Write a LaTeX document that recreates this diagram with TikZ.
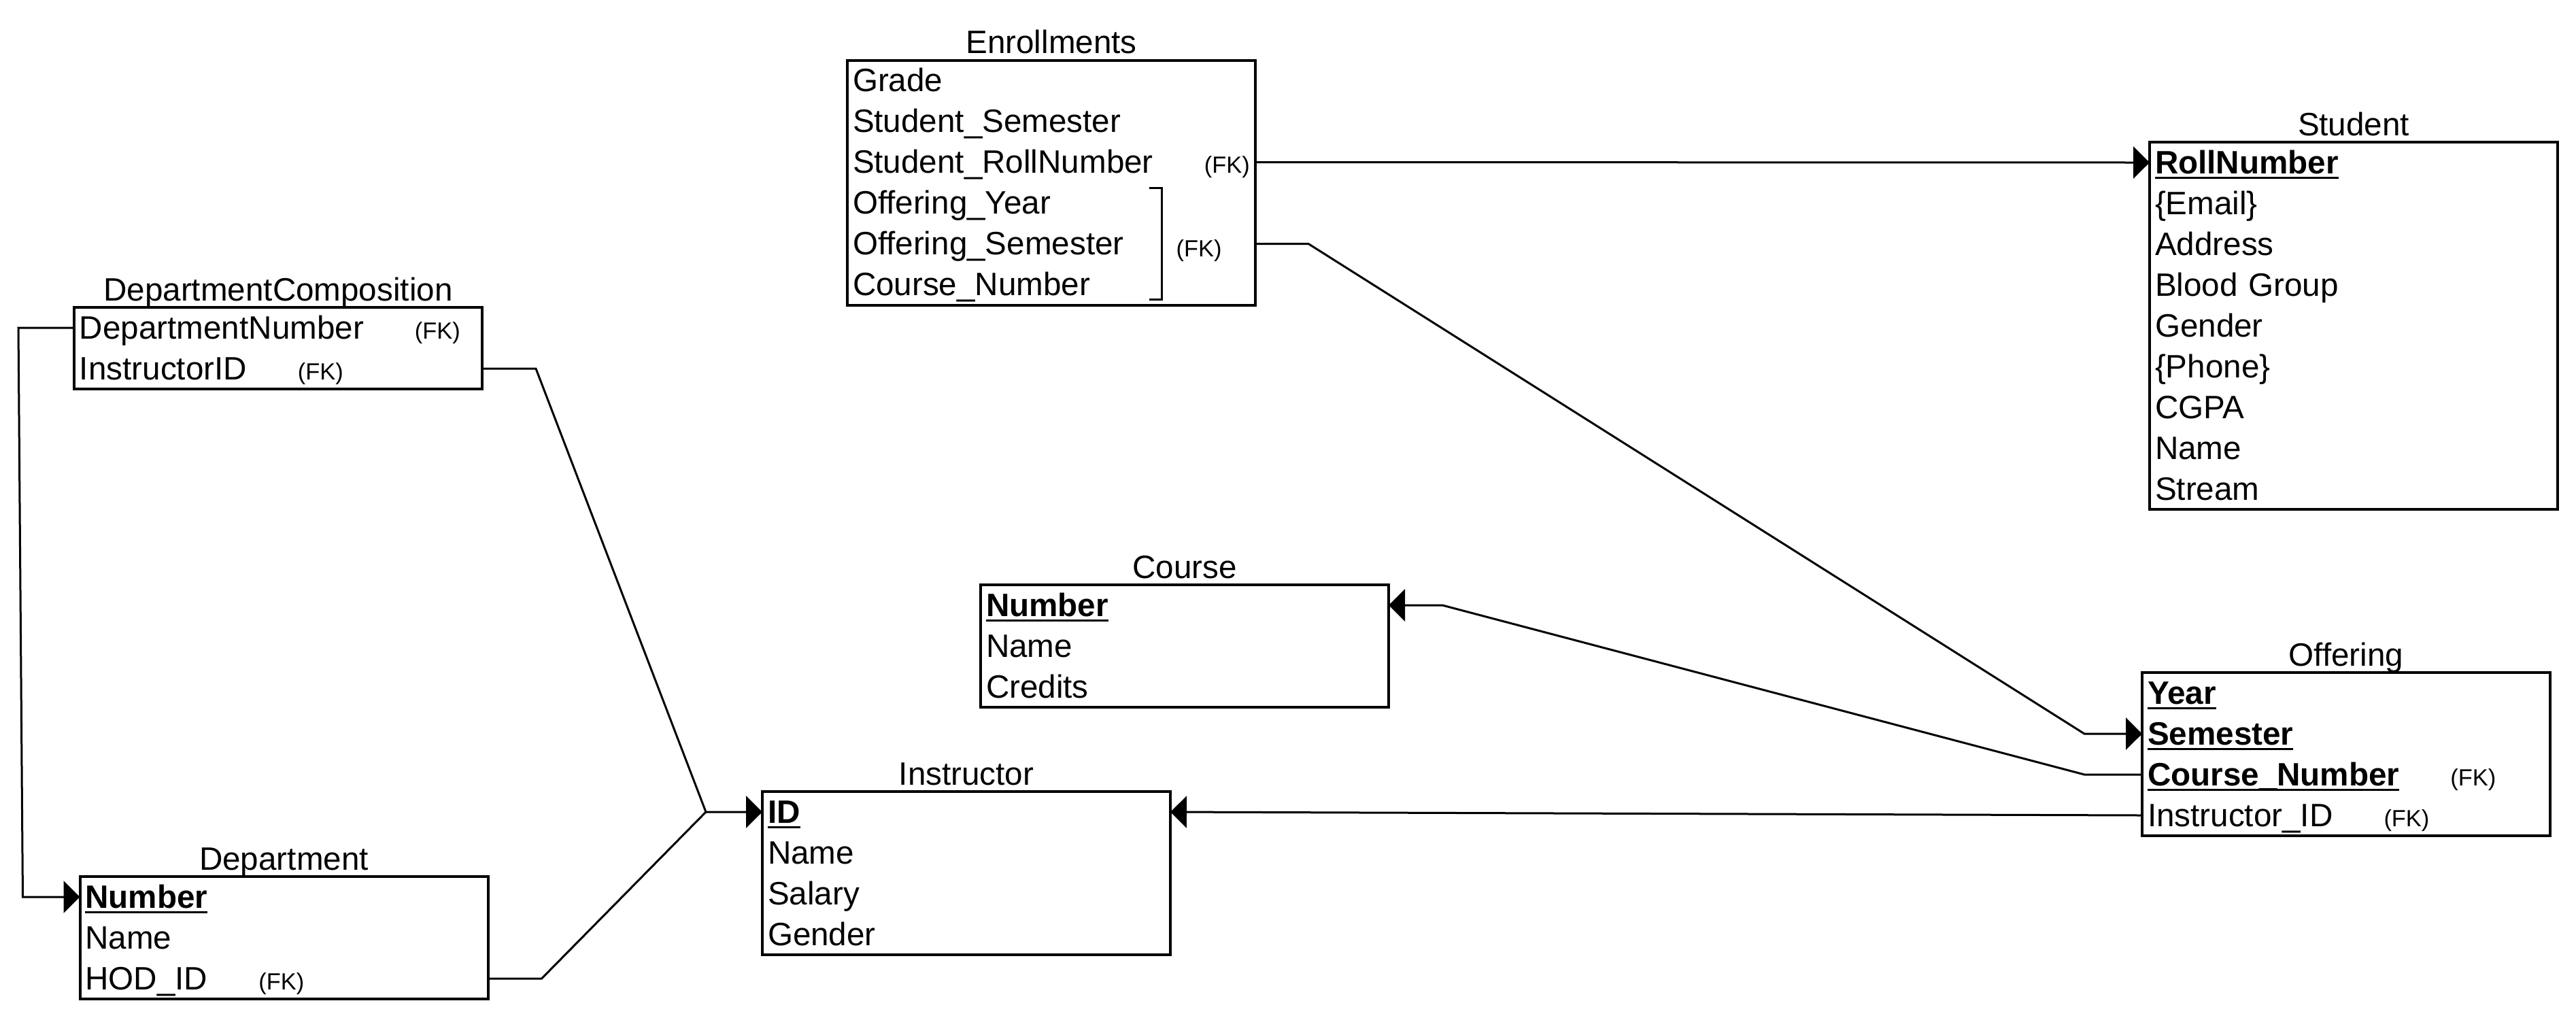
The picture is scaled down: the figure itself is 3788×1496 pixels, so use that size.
\documentclass[tikz,border=0pt]{standalone}
\usepackage{fontspec}
\setmainfont{Liberation Sans}
\usepackage{tikz}
\usetikzlibrary{arrows.meta,positioning,matrix}
\newcommand{\tblfont}{\fontsize{23.8pt}{30pt}\selectfont}
\newcommand{\fkfont}{\fontsize{17.2pt}{20pt}\selectfont}
\newcommand{\fk}{\hspace{37.5pt}{\fkfont (FK)}}
\newsavebox{\pkbox}
\newcommand{\pk}[1]{\sbox\pkbox{\bfseries #1}\rlap{\usebox\pkbox}\rule[-0.17em]{\wd\pkbox}{0.06em}}
\begin{document}
\begin{tikzpicture}[x=0.5pt, y=-0.5pt, %
        tbl/.style={matrix of nodes, draw, line width=2pt, inner sep=0pt, outer sep=0pt,
          row sep=0pt,
          nodes={font=\tblfont, text width=292pt, inner xsep=4pt, inner ysep=0pt,
            outer sep=0pt, text height=23pt, text depth=7pt, align=left}},
        ttl/.style={font=\tblfont, inner sep=0pt, text depth=0pt},
        ln/.style={line width=1.5pt},
        lnarr/.style={ln, -{Triangle[length=12pt,width=23.5pt]}}
        ]
        \fill[white] (0,0) rectangle (3788,1496);
        % tables
        \matrix[tbl, anchor=north west] (enr) at (1246,88.5) {
          Grade\\
          Student\_Semester\\
          Student\_RollNumber\fk\\
          Offering\_Year\\
          Offering\_Semester\\
          Course\_Number\\
        };
        \node[ttl, above=4.75pt of enr] (enrt) {Enrollments};
        \matrix[tbl, anchor=north west] (stu) at (3161,209) {
          \pk{RollNumber}\\
          \{Email\}\\
          Address\\
          Blood Group\\
          Gender\\
          \{Phone\}\\
          CGPA\\
          Name\\
          Stream\\
        };
        \node[ttl, above=4.75pt of stu] (stut) {Student};
        \matrix[tbl, anchor=north west] (dc) at (109,452) {
          DepartmentNumber\fk\\
          InstructorID\fk\\
        };
        \node[ttl, above=4.75pt of dc] (dct) {DepartmentComposition};
        \matrix[tbl, anchor=north west] (crs) at (1442,860) {
          \pk{Number}\\
          Name\\
          Credits\\
        };
        \node[ttl, above=4.75pt of crs] (crst) {Course};
        \matrix[tbl, anchor=north west] (off) at (3150,989) {
          \pk{Year}\\
          \pk{Semester}\\
          \pk{Course\_Number}\fk\\
          Instructor\_ID\fk\\
        };
        \node[ttl, above=4.75pt of off] (offt) {Offering};
        \matrix[tbl, anchor=north west] (ins) at (1121,1164) {
          \pk{ID}\\
          Name\\
          Salary\\
          Gender\\
        };
        \node[ttl, above=4.75pt of ins] (inst) {Instructor};
        \matrix[tbl, anchor=north west] (dep) at (117.5,1289) {
          \pk{Number}\\
          Name\\
          HOD\_ID\fk\\
        };
        \node[ttl, above=4.75pt of dep] (dept) {Department};
        % composite key bracket
        \draw[ln] ([xshift=-78pt,yshift=-3.75pt]enr-4-1.north east) -- ++(18,0)
          |- ([xshift=-78pt,yshift=4.25pt]enr-6-1.south east);
        \node[font=\fkfont, inner sep=0pt] (enrfk) at ([xshift=-41.5pt,yshift=-5pt]enr-5-1.east) {(FK)};
        % references
        \draw[lnarr] (enr-3-1.east) -- (stu-1-1.west);
        \draw[lnarr] (enr-5-1.east) -- ++(78,0) -- ([xshift=-42.5pt]off-2-1.west) -- (off-2-1.west);
        \draw[lnarr] (off-3-1.west) -- ++(-85,0) -- ([xshift=39.5pt]crs-1-1.east) -- (crs-1-1.east);
        \draw[lnarr] (off-4-1.west) -- (ins-1-1.east);
        \draw[lnarr] (dc-2-1.east) -- ++(79,0) -- ([xshift=-41.5pt]ins-1-1.west) -- (ins-1-1.west);
        \draw[ln] (dep-3-1.east) -- ++(79,0) -- ([xshift=-41.5pt]ins-1-1.west);
        \draw[lnarr] (dc-1-1.west) -- ++(-82,0) -- ([xshift=-42pt]dep-1-1.west) -- (dep-1-1.west);
      \end{tikzpicture}
\end{document}
